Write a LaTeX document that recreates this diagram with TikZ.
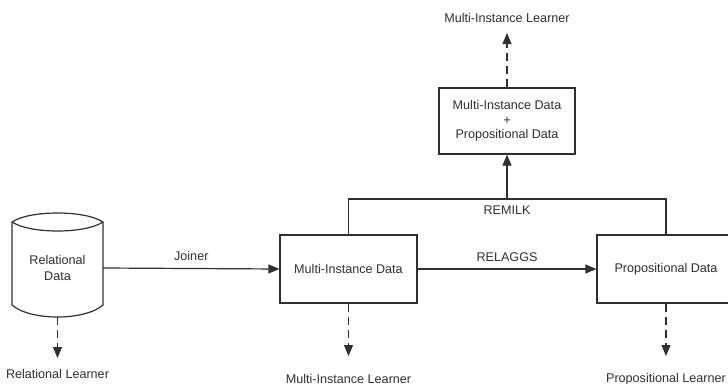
\documentclass[tikz,border=0pt]{standalone}
\usepackage{fontspec}
\setmainfont{Liberation Sans}
\usetikzlibrary{arrows.meta}
\definecolor{ink}{HTML}{303030}
\begin{document}
\begin{tikzpicture}[x=1pt,y=-1pt,
  every node/.style={text=ink,font=\fontsize{12.6}{15.5}\selectfont,inner sep=0pt},
  databox/.style={draw=ink,line width=1.2pt,fill=white,align=center},
  flow/.style={draw=ink,line width=1.2pt},
  tip/.style={-{Triangle[length=11pt,width=9pt]}},
  learnto/.style={flow,tip,dash pattern=on 8pt off 5pt},
  lbl/.style={anchor=center}]
\useasboundingbox (0,0) rectangle (728,383);
\clip (0,0) rectangle (728,383);

% relational data store (cylinder)
\draw[ink,line width=1.2pt,fill=white]
  (12,222) .. controls (30,210) and (85,210) .. (103,222)
  -- (103,305) .. controls (85,321) and (30,321) .. (12,305) -- cycle;
\draw[ink,line width=1.2pt]
  (12,222) .. controls (30,234) and (85,234) .. (103,222);
\node[align=center,minimum width=91pt] (rd) at (57.5,268) {Relational\\Data};
\coordinate (rdb) at (57.5,317);

% data boxes
\node[databox,minimum width=137pt,minimum height=68pt] (mi) at (348.5,269) {Multi-Instance Data};
\node[databox,minimum width=138pt,minimum height=68pt] (pd) at (666,269) {Propositional Data};
\node[databox,minimum width=136pt,minimum height=66pt] (mp) at (507,121)
  {Multi-Instance Data\\[-1pt]+\\[-1pt]Propositional Data};

% learners
\node[lbl] (rl) at (57.5,374) {Relational Learner};
\node[lbl] (ml) at (348.5,379) {Multi-Instance Learner};
\node[lbl] (pl) at (666,379) {Propositional Learner};
\node[lbl] (tl) at (507,18) {Multi-Instance Learner};
\coordinate (rlt) at (57.5,358);
\coordinate (mlt) at (348.5,356);
\coordinate (plt) at (666,356);
\coordinate (tlt) at (507,33);

% transformations
\draw[flow,tip] (rd.east) -- node[above=7pt] (jn) {Joiner} (mi.west);
\draw[flow,tip] (mi.east) -- node[above=7pt] (ra) {RELAGGS} (pd.west);
\coordinate (jl) at (348.5,199);
\coordinate (jm) at (507,199);
\coordinate (jr) at (666,199);
\draw[flow] (mi.north) -- (jl) -- (jr) -- (pd.north);
\draw[flow,tip] (jm) -- (mp.south);
\node[lbl] (rk) at (507,210) {REMILK};

% learner hand-offs
\draw[learnto] (rdb) -- (rlt);
\draw[learnto] (mi.south) -- (mlt);
\draw[learnto] (pd.south) -- (plt);
\draw[learnto] (mp.north) -- (tlt);
\end{tikzpicture}
\end{document}
